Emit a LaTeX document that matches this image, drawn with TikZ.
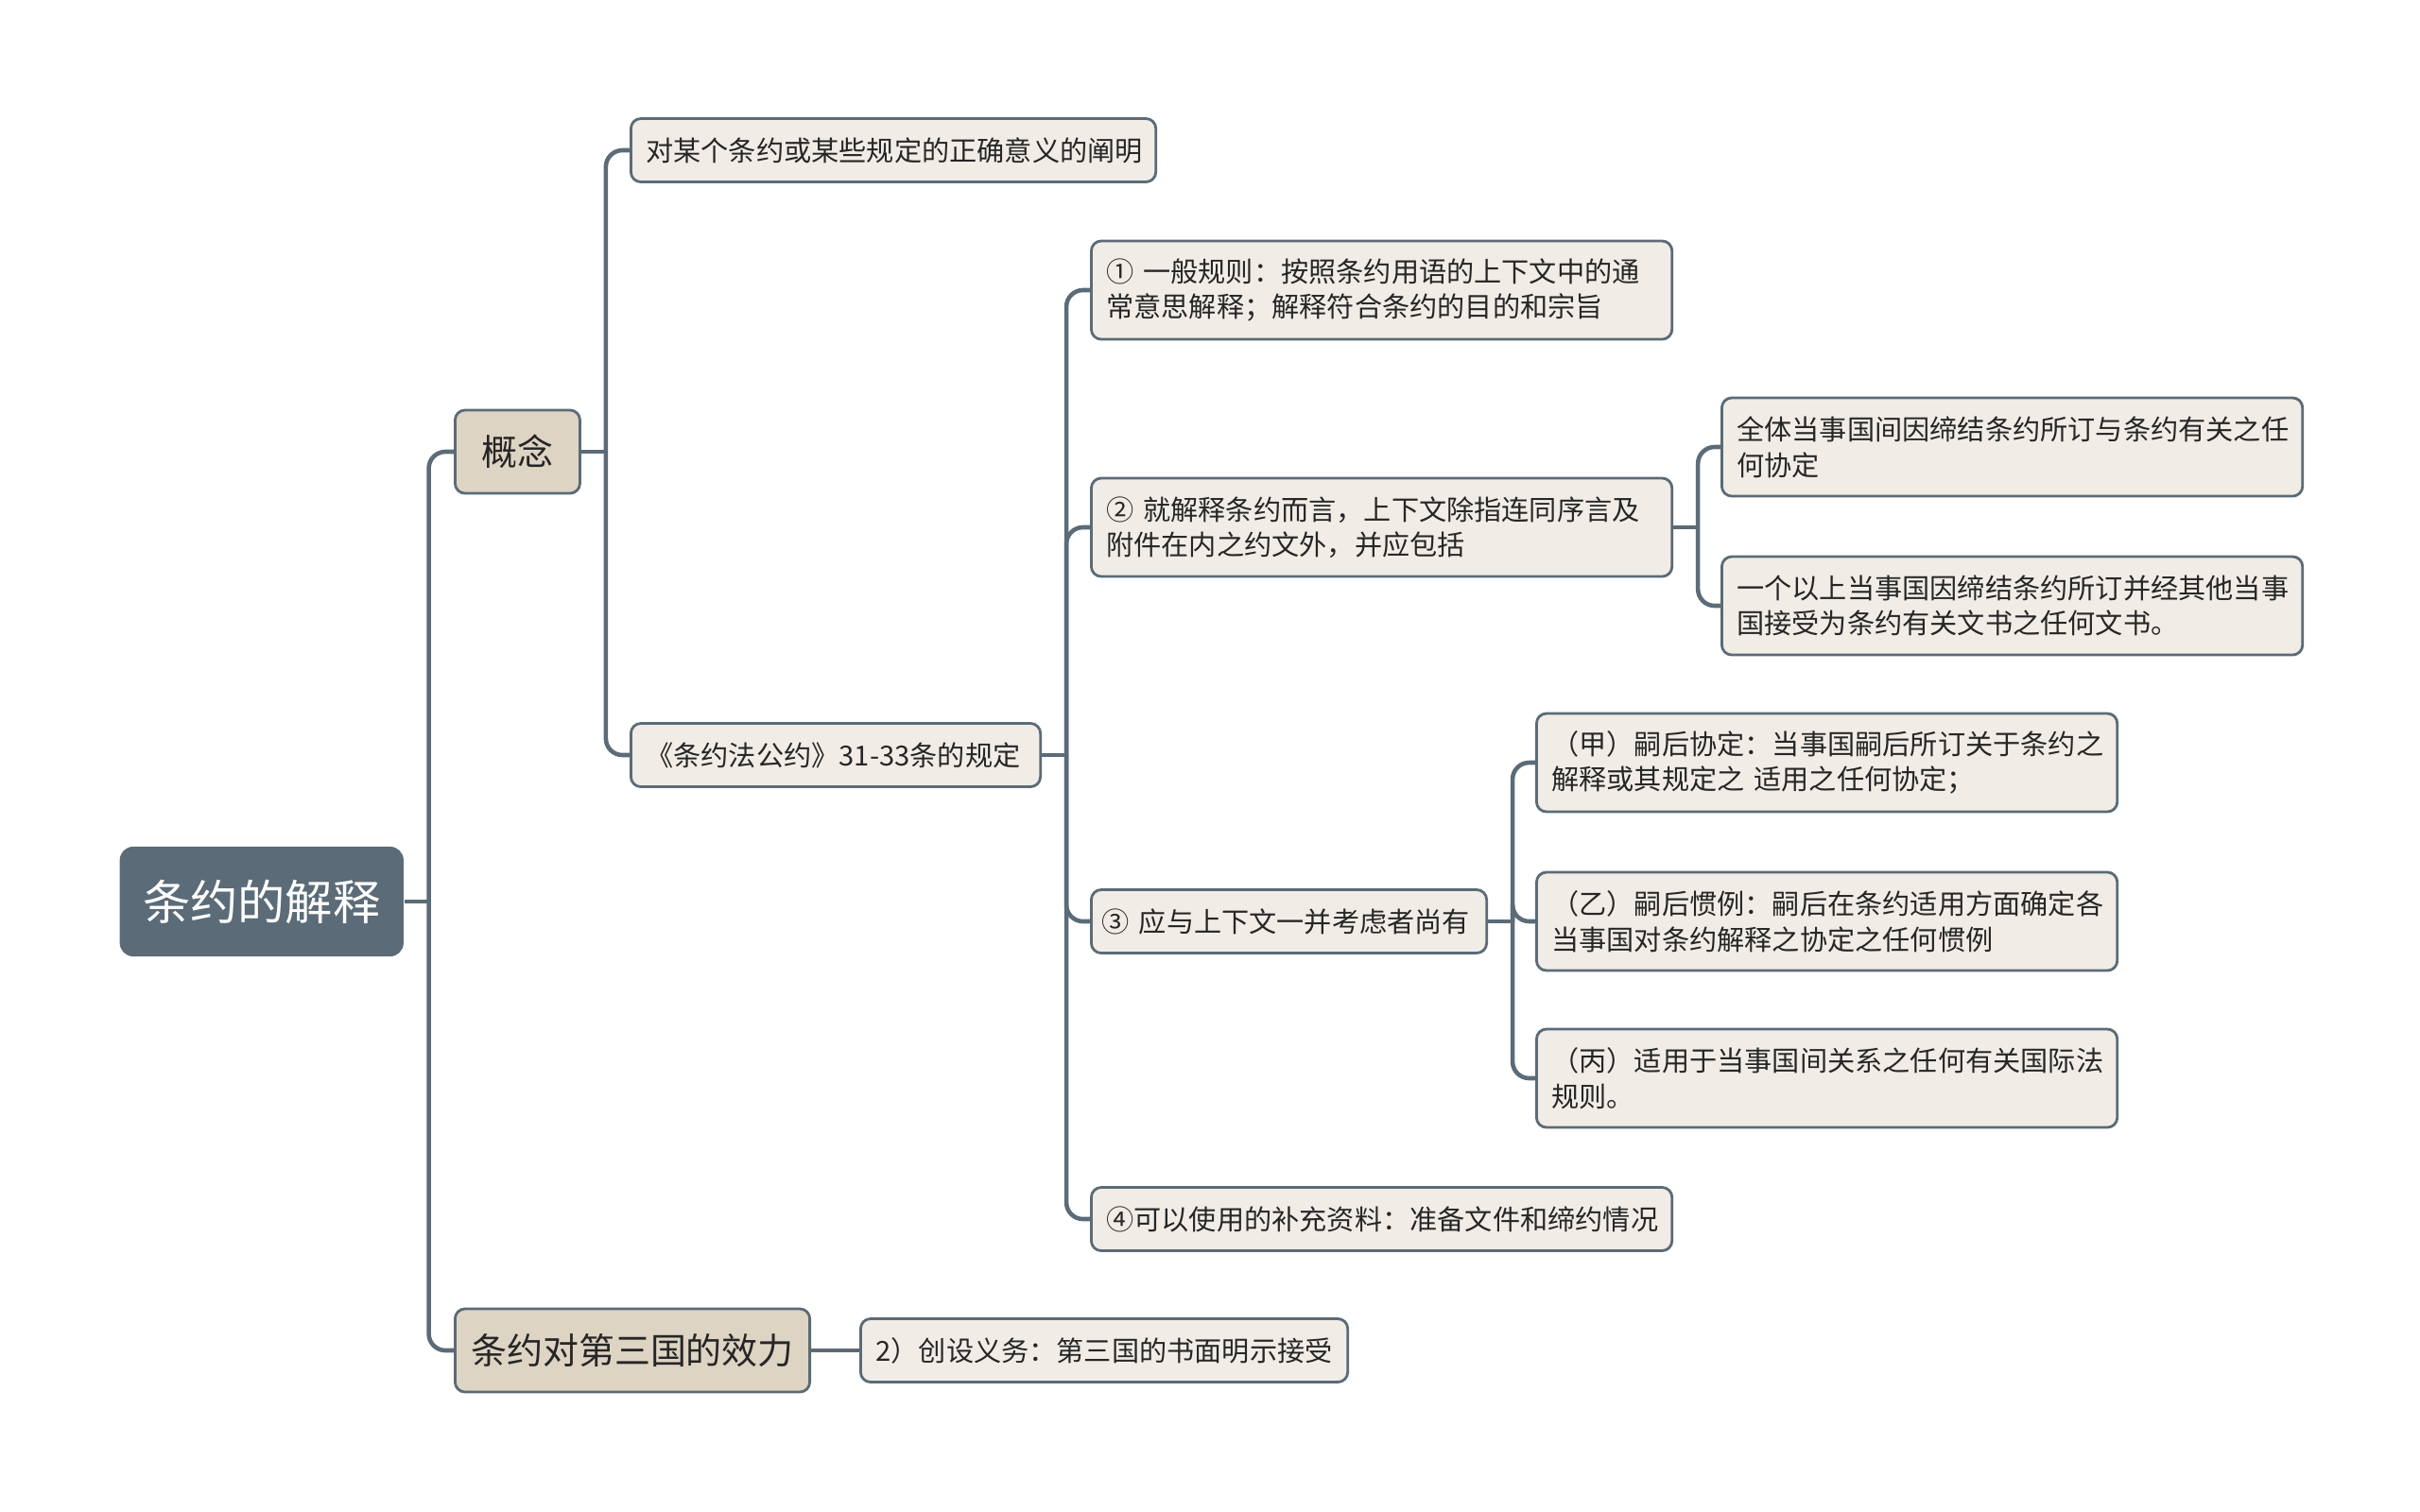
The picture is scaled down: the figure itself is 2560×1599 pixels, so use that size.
\documentclass[tikz,border=0pt]{standalone}
\usepackage{fontspec}
\setmainfont{Noto Sans CJK SC}
\usepackage{tikz}

\definecolor{slate}{HTML}{5B6B77}
\definecolor{sand}{HTML}{DED4C4}
\definecolor{paper}{HTML}{F1EDE6}
\definecolor{ink}{HTML}{262626}

\tikzset{
  box/.style={draw=slate, line width=0.8pt, rounded corners=3pt, anchor=west,
    inner xsep=0.16cm, inner ysep=0pt, text=ink},
  topic/.style={box, fill=sand, minimum width=#1, minimum height=0.88cm,
    font=\fontsize{10.8}{13}\selectfont},
  leaf/.style={box, fill=paper, align=left, text width=#1, minimum height=0.67cm,
    font=\fontsize{8.3}{10.7}\selectfont},
  tall/.style={minimum height=1.04cm},
  link/.style={draw=slate, line width=1.3pt, rounded corners=5pt},
}

\begin{document}
\begin{tikzpicture}[x=0.01cm, y=-0.01cm]
\useasboundingbox (0,0) rectangle (2560,1599);

% root
\node[fill=slate, rounded corners=4pt, anchor=west, minimum width=3cm, minimum height=1.16cm,
  text=white, font=\fontsize{14.3}{17}\selectfont] (root) at (126,954) {条约的解释};

% first level
\node[topic=1.32cm] (gn) at (480,478) {概念};
\node[topic=3.75cm] (xl) at (480,1429) {条约对第三国的效力};

% 概念
\node[leaf=5.23cm] (d1) at (666,159) {对某个条约或某些规定的正确意义的阐明};
\node[leaf=4.01cm] (gd) at (666,799) {《条约法公约》31-33条的规定};

% 31-33条
\node[leaf=5.82cm, tall] (r1) at (1153,307) {① 一般规则：按照条约用语的上下文中的通\\常意思解释；解释符合条约的目的和宗旨};
\node[leaf=5.82cm, tall] (r2) at (1153,558) {② 就解释条约而言，上下文除指连同序言及\\附件在内之约文外，并应包括};
\node[leaf=3.95cm, inner xsep=0.115cm] (r3) at (1153,975) {③ 应与上下文一并考虑者尚有};
\node[leaf=5.82cm] (r4) at (1153,1290) {④可以使用的补充资料：准备文件和缔约情况};

\node[leaf=5.82cm, tall] (q1) at (1820,473) {全体当事国间因缔结条约所订与条约有关之任\\何协定};
\node[leaf=5.82cm, tall] (q2) at (1820,641) {一个以上当事国因缔结条约所订并经其他当事\\国接受为条约有关文书之任何文书。};

\node[leaf=5.82cm, tall] (p1) at (1624,807) {（甲）嗣后协定：当事国嗣后所订关于条约之\\解释或其规定之 适用之任何协定；};
\node[leaf=5.82cm, tall] (p2) at (1624,975) {（乙）嗣后惯例：嗣后在条约适用方面确定各\\当事国对条约解释之协定之任何惯例};
\node[leaf=5.82cm, tall] (p3) at (1624,1141) {（丙）适用于当事国间关系之任何有关国际法\\规则。};

% 第三国
\node[leaf=4.83cm] (t2) at (909,1429) {2）创设义务：第三国的书面明示接受};

% connectors
\draw[link] (root.east) -- ++(26,0);
\foreach \c in {gn,xl} \draw[link] (root.east) ++(26,0) |- (\c.west);
\draw[link] (gn.east) -- ++(26,0);
\foreach \c in {d1,gd} \draw[link] (gn.east) ++(26,0) |- (\c.west);
\draw[link] (gd.east) -- ++(26,0);
\foreach \c in {r1,r2,r3,r4} \draw[link] (gd.east) ++(26,0) |- (\c.west);
\draw[link] (r2.east) -- ++(26,0);
\foreach \c in {q1,q2} \draw[link] (r2.east) ++(26,0) |- (\c.west);
\draw[link] (r3.east) -- ++(26,0);
\foreach \c in {p1,p2,p3} \draw[link] (r3.east) ++(26,0) |- (\c.west);
\draw[link] (xl.east) -- (t2.west);
\end{tikzpicture}
\end{document}
